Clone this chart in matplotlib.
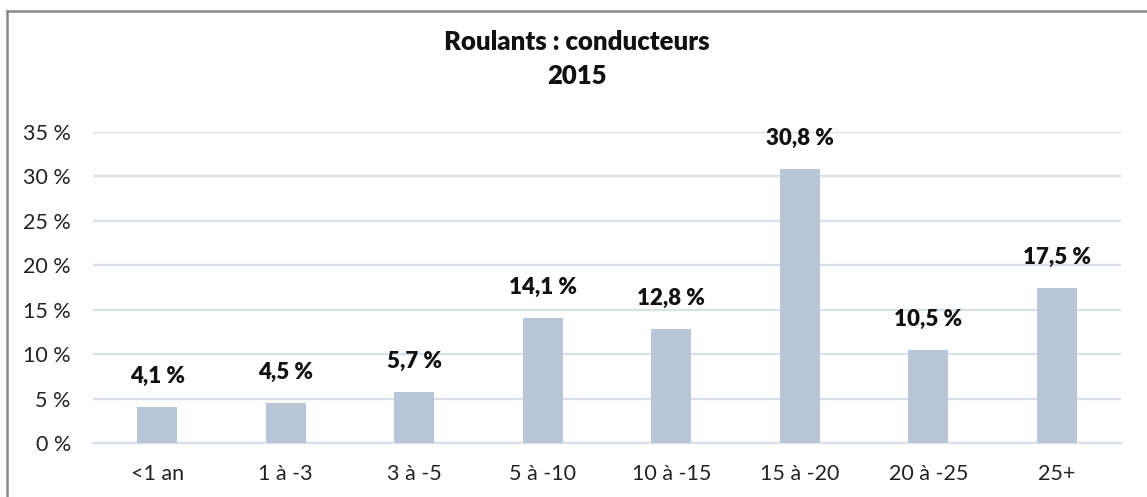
import matplotlib
matplotlib.use('Agg')
import matplotlib.pyplot as plt
from matplotlib.lines import Line2D

plt.rcParams['font.family'] = ['Lato', 'DejaVu Sans']

categories = ['<1 an', '1 à -3', '3 à -5', '5 à -10', '10 à -15', '15 à -20', '20 à -25', '25+']
values = [4.1, 4.5, 5.7, 14.1, 12.8, 30.8, 10.5, 17.5]
yticks = [0, 5, 10, 15, 20, 25, 30, 35]

W, H = 1147, 497
barColor = '#B9C6D7'
gridColor = '#DAE0EA'

fig = plt.figure(figsize=(W / 100, H / 100), dpi=100)
ax = fig.add_axes([93 / W, (H - 443) / H, (1121 - 93) / W, (443 - 132) / H])

x = range(len(categories))
ax.bar(x, values, width=0.31, color=barColor, zorder=3)

for i, v in enumerate(values):
	ax.annotate(
		('%.1f %%' % v).replace('.', ','),
		(i, v),
		xytext=(0, 22),
		textcoords='offset points',
		ha='center',
		va='center',
		fontsize=16,
		fontweight='heavy',
		color='#111111'
	)

ax.set_xlim(-0.5, len(categories) - 0.5)
ax.set_ylim(0, 35)
ax.set_yticks(yticks)
ax.set_yticklabels(['%d %%' % t for t in yticks])
ax.set_xticks(list(x))
ax.set_xticklabels(categories)
ax.tick_params(axis='both', length=0, labelsize=15.5, colors='#222222')
ax.tick_params(axis='y', pad=16)
ax.tick_params(axis='x', pad=15)
ax.grid(axis='y', color=gridColor, linewidth=1.6, zorder=0)
for s in ['top', 'right', 'left']:
	ax.spines[s].set_visible(False)
ax.spines['bottom'].set_color(gridColor)
ax.spines['bottom'].set_linewidth(1.6)

fig.text(577 / W, 1 - 42 / H, 'Roulants : conducteurs', ha='center', va='center',
	fontsize=18.5, fontweight='heavy', color='#111111')
fig.text(577 / W, 1 - 76 / H, '2015', ha='center', va='center',
	fontsize=18.5, fontweight='heavy', color='#111111')

# outer frame (only top and left visible in the reference)
fig.add_artist(Line2D([7 / W, 7 / W], [0, 1 - 11 / H], transform=fig.transFigure, color='#8A8A8A', linewidth=1.8))
fig.add_artist(Line2D([7 / W, 1], [1 - 11 / H, 1 - 11 / H], transform=fig.transFigure, color='#8A8A8A', linewidth=1.8))

plt.savefig('out.png', dpi=100)
